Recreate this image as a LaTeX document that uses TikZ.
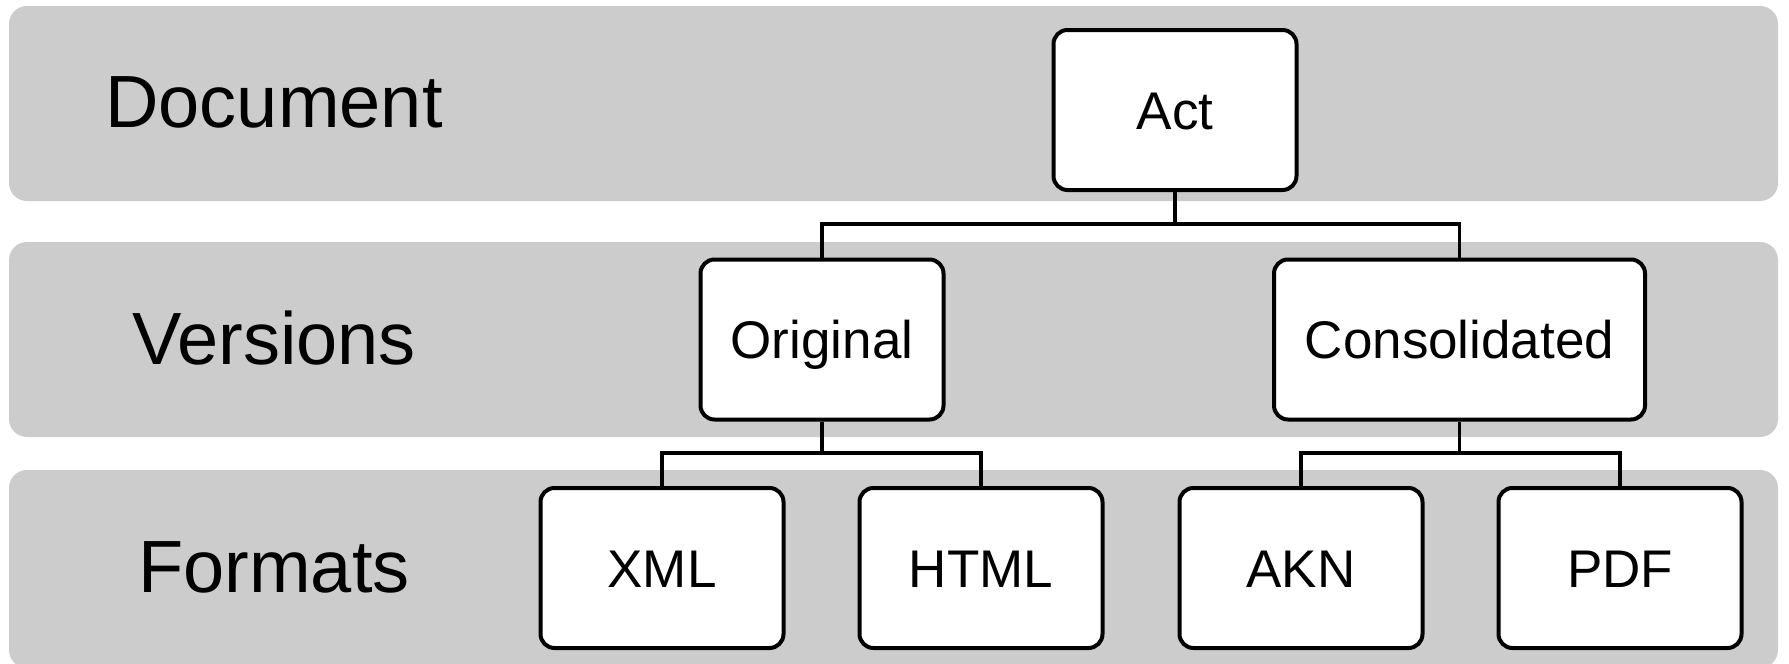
\documentclass[tikz,border=0pt]{standalone}
\usepackage{fontspec}
\setmainfont{Liberation Sans}
\definecolor{bandgray}{HTML}{CCCCCC}
\begin{document}
\begin{tikzpicture}[x=0.5pt,y=-0.5pt,
  band/.style={fill=bandgray, draw=none, rounded corners=9pt},
  bandlabel/.style={font=\fontsize{37}{40}\selectfont, text height=26.5pt, text depth=0pt, inner sep=0pt},
  box/.style={draw=black, fill=white, line width=2pt, rounded corners=7pt,
    minimum height=80pt, inner sep=0pt, text height=19pt, text depth=0pt,
    font=\fontsize{26.5}{30}\selectfont},
  conn/.style={draw=black, line width=1.9pt}]
\useasboundingbox (0,0) rectangle (1789,664);
% bands
\fill[band] (9,6) rectangle (1778,201);
\fill[band] (9,242) rectangle (1778,437);
\fill[band] (9,470) rectangle (1778,668);
% band labels
\node[bandlabel] (lbldoc) at (274,101) {Document};
\node[bandlabel] (lblver) at (274,338) {Versions};
\node[bandlabel] (lblfmt) at (274,566) {Formats};
% boxes
\node[box, minimum width=121.5pt] (act) at (1175,110) {Act};
\node[box, minimum width=121.5pt] (orig) at (822,339.5) {Original};
\node[box, minimum width=185.5pt] (cons) at (1459.5,339.5) {Consolidated};
\node[box, minimum width=121.5pt] (xml) at (662,568) {XML};
\node[box, minimum width=121.5pt] (html) at (981,568) {HTML};
\node[box, minimum width=121.5pt] (akn) at (1301,568) {AKN};
\node[box, minimum width=121.5pt] (pdf) at (1620,568) {PDF};
% junctions
\coordinate (j1) at (1175,224);
\coordinate (j2) at (822,453);
\coordinate (j3) at (1459.5,453);
% connectors
\draw[conn] (act.south) -- (j1);
\draw[conn] (orig.north) |- (j1) -| (cons.north);
\draw[conn] (orig.south) -- (j2);
\draw[conn] (xml.north) |- (j2) -| (html.north);
\draw[conn] (cons.south) -- (j3);
\draw[conn] (akn.north) |- (j3) -| (pdf.north);
\end{tikzpicture}
\end{document}
